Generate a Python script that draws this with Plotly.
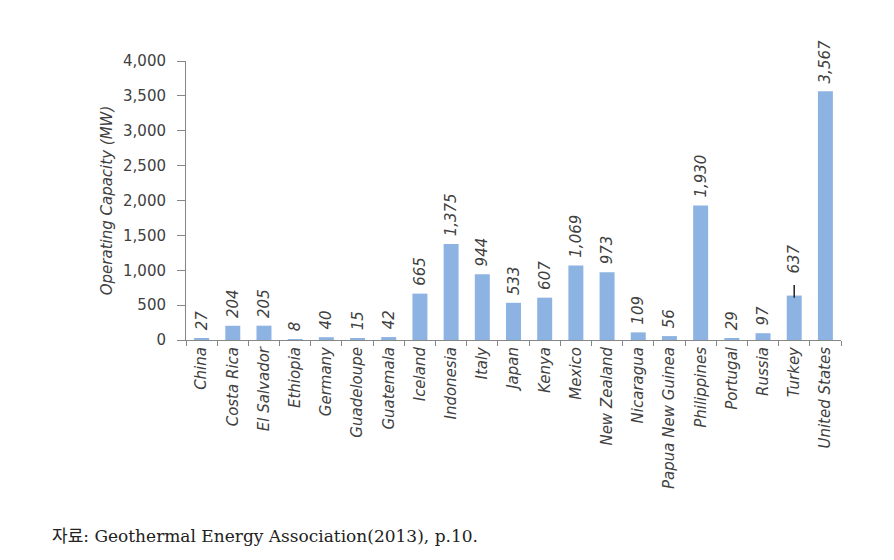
import plotly.graph_objects as go

countries = ["China", "Costa Rica", "El Salvador", "Ethiopia", "Germany", "Guadeloupe",
             "Guatemala", "Iceland", "Indonesia", "Italy", "Japan", "Kenya", "Mexico",
             "New Zealand", "Nicaragua", "Papua New Guinea", "Philippines", "Portugal",
             "Russia", "Turkey", "United States"]
capacity = [27, 204, 205, 8, 40, 15, 42, 665, 1375, 944, 533, 607, 1069, 973, 109, 56,
            1930, 29, 97, 637, 3567]
y_ticks = [0, 500, 1000, 1500, 2000, 2500, 3000, 3500, 4000]

NB = "\u00a0"
labels = [(NB * (4 if c == "Turkey" else 1)) + f"{v:,}" for c, v in zip(countries, capacity)]

font_family = "'DejaVu Sans', Verdana, sans-serif"
txt_color = "#404040"
axis_color = "#868686"

fig = go.Figure()
fig.add_trace(go.Bar(
    x=countries, y=capacity,
    marker=dict(color="#8DB3E2", line=dict(width=0)),
    width=0.48,
    text=labels, textposition="outside", textangle=-90,
    textfont=dict(family=font_family, size=15, color=txt_color, style="italic"),
    cliponaxis=False,
))

L, R, T, B = 178, 61, 53, 228
W, H = 894, 560
pw, ph = W - L - R, H - T - B

fig.update_layout(
    width=W, height=H,
    margin=dict(l=L, r=R, t=T, b=B),
    paper_bgcolor="white", plot_bgcolor="white",
    showlegend=False,
    font=dict(family=font_family, color=txt_color),
    uniformtext=dict(mode="show", minsize=15),
)
fig.update_xaxes(
    tickangle=-90, tickson="boundaries", ticks="outside", ticklen=5,
    tickcolor=axis_color, showline=True, linecolor=axis_color, linewidth=1,
    tickfont=dict(family=font_family, size=15, color=txt_color, style="italic"),
    showgrid=False,
)
fig.update_yaxes(
    range=[0, 4000], tickvals=y_ticks, tickformat=",", ticks="outside", ticklen=8,
    tickcolor=axis_color, showline=True, linecolor=axis_color, linewidth=1,
    tickfont=dict(family=font_family, size=15, color=txt_color),
    ticklabelstandoff=8,
    showgrid=False, zeroline=False,
    title=dict(text="Operating Capacity (MW)", standoff=6,
               font=dict(family=font_family, size=15, color=txt_color, style="italic")),
)

# leader line on the Turkey label
t_val = capacity[countries.index("Turkey")]
fig.add_shape(type="line", xref="x", yref="y", x0="Turkey", x1="Turkey",
              y0=t_val - 30, y1=t_val + 150,
              line=dict(color="#222222", width=1.5))

fig.add_annotation(
    text="자료: Geothermal Energy Association(2013), p.10.",
    xref="paper", yref="paper", x=(42 - L) / pw, y=-(528 - (H - B)) / ph,
    xanchor="left", yanchor="middle", showarrow=False,
    font=dict(family="'DejaVu Serif', 'Noto Sans CJK KR', serif", size=17, color="#222222"),
)

fig.write_html("out.html")
